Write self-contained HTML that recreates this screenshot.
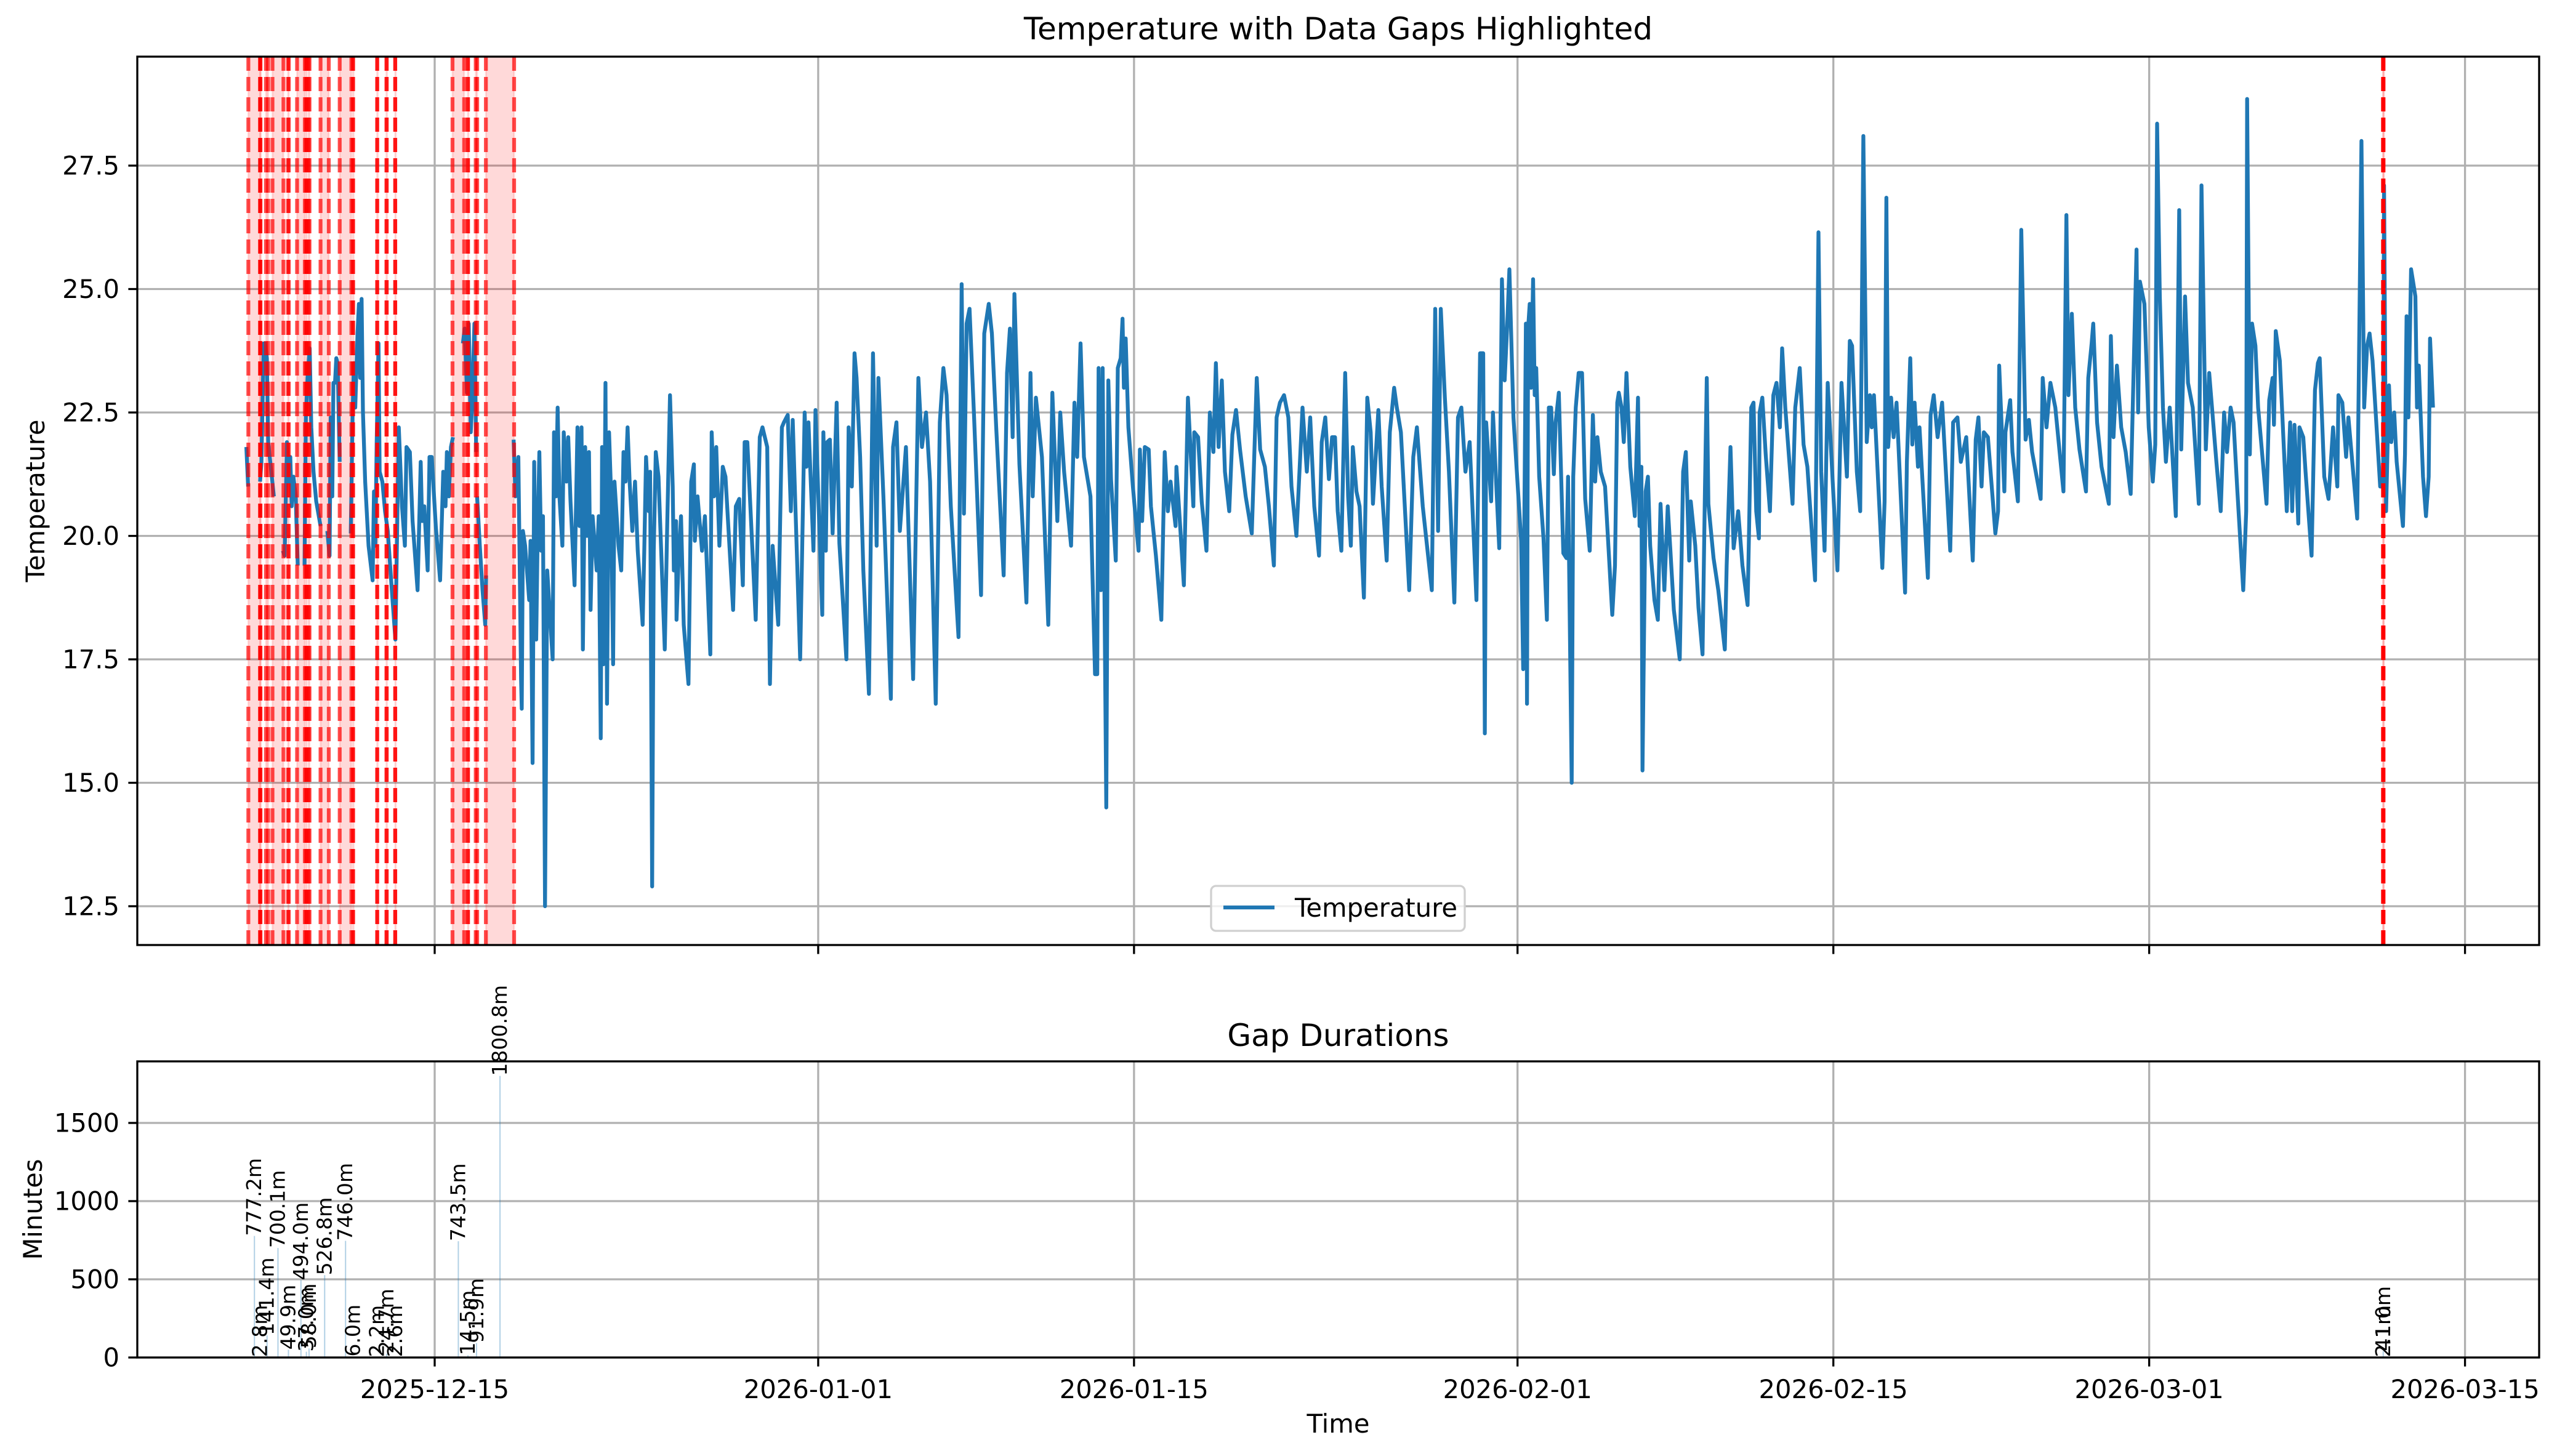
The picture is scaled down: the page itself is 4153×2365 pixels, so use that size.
<!DOCTYPE html>
<html><head><meta charset="utf-8">
<style>
html,body{margin:0;padding:0;background:#fff;}
svg{display:block;font-family:"DejaVu Sans","Liberation Sans",sans-serif;}
</style></head>
<body>
<svg id="chart" width="4153" height="2365" viewBox="0 0 4153 2365" xmlns="http://www.w3.org/2000/svg"></svg>
<script>
// ---- data (days relative to 2025-12-15, temperatures in °C) ----
const times = [
-8.35,-8.27,null,
-7.74,-7.68,-7.58,-7.52,-7.44,-7.38,-7.13,null,
-6.73,-6.65,-6.55,-6.46,-6.40,-6.34,-6.26,-6.16,-6.07,null,
-5.77,-5.71,-5.64,-5.54,-5.47,-5.37,-5.25,-5.06,null,
-4.76,-4.66,-4.61,-4.54,-4.49,-4.42,-4.36,-4.30,-4.21,null,
-3.72,-3.64,-3.58,-3.52,-3.42,-3.36,-3.30,-3.24,-3.18,-3.08,-2.93,-2.75,-2.69,-2.63,-2.57,-2.49,-2.44,-2.32,-2.20,-2.08,-1.90,-1.74,-1.59,-1.45,-1.32,-1.25,-1.10,-0.98,-0.76,-0.62,-0.56,-0.46,-0.31,-0.23,-0.13,0.05,0.24,0.38,0.48,0.54,0.63,0.72,0.81,null,
1.25,1.33,1.43,1.51,1.60,1.67,1.76,1.84,null,1.88,2.00,2.12,2.24,2.28,null,
3.50,3.58,3.71,3.83,3.86,3.91,4.01,4.19,4.25,4.34,4.41,4.50,4.56,4.64,4.72,4.80,4.89,4.99,5.23,5.29,5.38,5.45,5.53,5.66,5.72,5.84,5.92,6.02,6.20,6.33,6.42,6.51,6.57,6.67,6.75,6.84,6.91,7.00,7.18,7.27,7.36,7.42,7.48,7.57,7.64,7.73,7.81,7.91,7.97,8.15,8.27,8.37,8.46,8.55,8.64,8.76,8.88,9.00,9.22,9.29,9.37,9.49,9.55,9.64,9.71,9.80,9.92,10.20,
10.31,10.43,10.55,10.60,10.70,10.72,10.82,10.92,11.04,11.25,11.37,11.49,11.53,11.65,11.85,11.98,12.22,12.28,12.38,12.48,12.62,12.77,12.89,13.23,13.35,13.50,13.66,13.74,13.86,14.23,14.41,14.53,14.74,14.86,14.98,15.23,15.39,15.48,15.65,15.79,15.87,16.20,16.40,16.48,16.57,16.79,16.88,17.18,17.23,17.34,17.40,17.52,17.64,17.82,17.94,18.25,18.35,18.49,18.61,18.70,18.86,19.00,19.25,19.43,19.59,19.67,19.89,20.22,20.32,20.47,20.62,20.89,21.21,21.44,21.60,21.78,21.96,22.21,22.39,22.55,22.69,22.88,23.22,23.36,23.46,23.58,23.71,23.91,24.22,24.36,24.56,24.70,24.89,25.22,25.37,25.50,25.62,25.70,25.92,26.23,26.41,26.51,26.65,26.92,27.20,27.38,27.60,27.73,27.90,28.21,28.36,28.48,28.63,28.78,29.07,29.27,
29.37,29.43,29.53,29.61,29.68,29.77,29.86,29.98,30.19,30.28,30.41,30.49,30.55,30.63,30.75,30.95,31.20,31.26,31.36,31.48,31.65,31.75,31.97,32.21,32.36,32.50,32.62,32.84,32.88,33.21,33.39,33.63,33.67,33.84,34.00,34.21,34.36,34.52,34.63,34.75,34.89,35.03,35.22,35.36,35.52,35.70,35.95,36.22,36.44,36.59,36.80,36.98,37.20,37.32,37.47,37.65,37.84,37.98,38.20,38.47,38.66,38.81,38.99,39.20,39.32,39.48,39.64,39.78,39.91,40.03,40.19,40.36,40.49,40.61,40.70,40.86,41.00,41.19,41.34,41.49,41.59,41.83,41.98,42.20,42.34,42.53,42.65,42.83,43.20,43.38,43.54,43.80,44.20,44.35,44.48,44.60,44.78,44.96,45.20,45.36,45.51,45.69,45.88,46.18,46.34,46.48,46.55,46.61,46.83,46.91,47.19,47.31,47.43,47.54,47.64,47.82,48.16,48.25,48.37,
48.42,48.47,48.54,48.60,48.69,48.76,48.83,48.96,49.15,49.30,49.39,49.49,49.61,49.69,49.83,50.03,50.17,50.24,50.40,50.47,50.58,50.71,50.86,51.00,51.20,51.34,51.44,51.54,51.69,51.88,52.20,52.32,52.42,52.49,52.61,52.71,52.83,53.00,53.20,53.34,53.41,53.49,53.54,53.68,53.78,53.88,54.07,54.22,54.34,54.51,54.66,54.77,54.93,55.19,55.34,55.46,55.61,55.68,55.88,56.02,56.20,56.31,56.39,56.46,56.69,56.90,57.19,57.27,57.44,57.58,57.78,57.97,58.20,58.26,58.36,58.46,58.58,58.70,58.73,58.85,59.00,59.19,59.34,59.48,59.63,59.73,59.87,60.19,60.31,60.51,60.68,60.85,61.19,61.34,61.46,61.61,61.75,61.97,62.18,62.36,62.60,62.73,62.83,63.04,63.19,63.33,63.48,63.62,
63.70,63.80,64.17,64.27,64.35,64.43,64.56,64.67,64.80,65.18,65.26,65.41,65.50,65.60,65.75,65.82,66.19,66.31,66.45,66.62,66.82,67.18,67.31,67.50,67.65,67.89,68.18,68.31,68.43,68.57,68.67,68.85,69.18,69.30,69.35,69.58,69.63,69.84,69.94,70.18,70.33,70.52,70.67,70.81,71.19,71.28,71.45,71.62,71.84,72.20,72.33,72.42,72.57,72.72,72.91,73.20,73.30,73.45,73.52,73.69,73.89,74.21,74.30,74.42,74.57,74.76,74.96,75.18,75.35,75.44,75.51,75.59,75.79,75.98,76.16,76.27,76.35,76.47,76.61,76.74,76.91,77.18,77.33,77.42,77.59,77.72,77.93,78.20,78.32,78.51,78.66,78.98,
79.17,79.32,79.45,79.61,79.74,79.91,80.17,80.30,80.34,80.46,80.56,80.71,80.83,81.20,81.32,81.47,81.53,81.61,81.79,82.10,82.25,82.34,82.44,82.61,82.66,82.83,82.93,83.20,83.35,83.48,83.56,83.76,83.95,84.15,84.34,84.39,84.56,84.73,84.83,85.22,85.41,85.53,85.66,85.77,85.90,86.24,86.37,86.41,86.50,86.63,86.73,86.86,86.97,87.25,87.34,87.41,87.49,87.61,87.68,87.80,87.87,87.95,88.14,88.27,88.39,88.45,88.58
];
const temps = [
21.8,21.0,null,
21.1,21.5,23.9,23.9,23.6,21.9,20.8,null,
19.7,19.6,21.9,21.1,21.6,20.6,21.2,20.8,19.4,null,
19.4,22.4,23.2,23.8,22.2,21.3,20.7,20.2,null,
20.1,19.6,22.4,20.8,23.1,23.1,23.6,23.5,21.5,null,
20.05,22.4,23.5,22.6,24.1,24.7,23.2,24.8,22.5,21.1,19.8,19.1,20.9,19.8,21.9,23.9,21.3,21.1,20.5,20.1,18.9,17.9,22.2,20.6,19.8,21.8,21.7,20.3,18.9,21.5,20.3,20.6,19.3,21.6,21.6,20.2,19.1,21.3,20.6,21.7,20.8,21.8,22.0,null,
23.9,24.2,22.9,24.3,22.1,22.8,24.3,21.7,null,20.8,19.8,18.9,18.2,19.2,null,
21.95,20.8,21.6,17.1,16.5,20.1,19.8,18.7,19.9,15.4,21.5,17.9,19.9,21.7,19.7,20.4,12.5,19.3,17.5,22.1,20.8,22.6,20.8,19.8,22.1,21.1,22.0,20.7,19.0,22.2,20.2,22.2,17.7,21.8,20.0,21.7,18.5,20.4,19.3,20.4,15.9,21.8,17.4,23.1,16.6,22.1,20.97,17.4,21.1,19.8,19.3,21.7,21.1,22.2,21.1,20.1,21.1,19.7,18.2,19.7,21.6,20.5,21.3,12.9,19.7,21.7,21.2,17.7,
20.3,22.85,21.0,19.3,20.3,18.3,19.6,20.4,18.2,17.0,21.1,21.45,19.9,20.8,19.7,20.4,17.6,22.1,20.8,21.8,19.8,21.4,21.2,18.5,20.6,20.75,19.0,21.9,21.9,18.3,22.0,22.2,21.8,17.0,19.8,18.2,22.2,22.3,22.45,20.5,22.35,17.5,22.5,21.4,22.3,19.7,22.55,18.4,22.1,19.7,21.9,21.95,20.05,22.7,19.85,17.5,22.2,21.0,23.7,23.2,21.6,19.3,16.8,23.7,19.8,23.2,20.8,16.7,21.8,22.3,20.1,21.8,17.1,23.2,21.8,22.5,21.1,16.6,22.3,23.4,22.85,20.6,17.95,25.1,20.45,24.3,24.6,22.4,18.8,24.1,24.7,24.1,22.2,19.2,23.3,24.2,22.0,24.9,21.45,18.65,23.3,20.8,22.8,21.6,18.2,22.9,20.3,22.5,21.3,19.8,22.7,21.6,23.9,21.6,20.8,17.2,
17.2,23.4,18.9,23.4,19.3,14.5,23.15,21.15,19.5,23.4,23.6,24.4,23.0,24.0,22.2,21.0,19.7,21.75,20.3,21.8,21.75,20.6,19.6,18.3,21.7,20.5,21.1,20.2,21.4,19.0,22.8,20.6,22.1,22.0,20.7,19.7,22.5,21.7,23.5,21.8,23.15,21.3,20.5,22.05,22.55,21.75,20.8,20.05,23.2,21.75,21.4,20.6,19.4,22.4,22.7,22.85,22.4,21.0,20.0,22.6,21.3,22.4,20.6,19.6,21.9,22.4,21.15,22.0,22.0,20.5,19.7,23.3,20.8,19.8,21.8,20.9,20.6,18.75,22.8,22.1,20.65,22.55,21.0,19.5,22.1,23.0,22.6,22.1,18.9,21.6,22.2,20.6,18.9,24.6,20.1,24.6,22.8,21.3,18.65,22.4,22.6,21.3,21.9,18.7,23.7,23.7,16.0,22.3,20.7,22.5,19.75,25.2,23.15,24.25,25.4,22.4,19.9,17.3,24.3,
16.6,24.2,24.7,23.0,25.2,22.85,23.4,21.2,19.95,18.3,22.6,22.6,21.25,22.3,22.9,19.65,19.55,21.2,15.0,21.2,22.6,23.3,23.3,20.75,19.7,22.45,21.1,22.0,21.3,21.0,18.4,19.4,22.7,22.9,22.6,21.9,23.3,21.4,20.4,22.8,20.2,21.4,15.25,20.9,21.2,19.8,18.7,18.3,20.65,18.9,20.6,19.75,18.5,17.5,21.3,21.7,19.5,20.7,19.8,18.55,17.6,21.0,23.2,20.65,19.55,18.9,17.7,19.4,21.8,19.75,20.5,19.4,18.6,20.0,22.6,22.7,20.5,19.95,22.5,22.8,21.65,20.5,22.85,23.1,22.2,23.8,22.6,20.65,22.6,23.4,21.85,21.4,19.1,26.15,21.3,19.7,23.1,21.1,19.3,23.1,21.2,23.95,23.85,21.3,20.5,28.1,21.9,22.85,
22.2,22.85,19.35,20.7,26.85,21.8,22.8,22.0,22.7,18.85,21.5,23.6,21.85,22.7,21.4,22.2,19.15,22.45,22.85,22.0,22.7,19.7,22.3,22.4,21.5,22.0,19.5,21.95,22.4,21.0,22.1,22.0,20.05,20.5,23.45,20.9,22.1,22.75,21.7,20.7,26.2,21.95,22.35,21.7,20.75,23.2,22.2,23.1,22.6,20.9,26.5,22.85,24.5,22.6,21.75,20.9,23.2,23.9,24.3,22.3,21.4,20.65,24.05,22.0,23.45,22.2,21.7,20.85,24.1,25.8,22.5,25.15,24.7,22.2,21.1,21.85,28.35,24.85,22.6,21.5,22.6,20.4,26.6,21.75,24.85,23.1,22.6,20.65,27.1,21.75,23.3,21.5,
20.5,22.5,21.7,22.6,22.3,20.9,18.9,20.5,28.85,21.65,24.3,23.85,22.6,20.65,22.75,23.2,22.25,24.15,23.55,20.5,22.3,20.5,22.25,20.25,22.2,22.0,21.3,19.6,22.95,23.5,23.6,21.2,20.75,22.2,21.0,22.85,22.7,21.6,22.4,20.35,28.0,22.6,23.85,24.1,23.55,21.0,21.0,27.1,20.5,23.05,21.9,22.5,21.5,20.2,21.65,24.45,22.4,25.4,25.2,24.85,22.6,23.45,21.2,20.4,21.2,24.0,22.6
];
// gaps: start day and duration (minutes)
const gapStarts = [-8.26,-7.74,-7.48,-7.19,-6.50,-6.10,-5.70,-5.59,-5.06,-4.21,-3.62,-2.55,-2.14,-1.75,0.79,1.47,1.82,2.27,86.36,86.38];
const gapMinutes = [777.2,2.8,141.4,700.1,49.9,494.0,37.0,58.0,526.8,746.0,6.0,2.2,24.7,2.6,743.5,14.5,91.9,1800.8,41.0,2.1];
const xTickDays = [0,17,31,48,62,76,90];
const xTickLabels = ["2025-12-15","2026-01-01","2026-01-15","2026-02-01","2026-02-15","2026-03-01","2026-03-15"];
const yTicksTop = [12.5,15.0,17.5,20.0,22.5,25.0,27.5];
const yTicksBottom = [0,500,1000,1500];

// ---- layout ----
const NS = "http://www.w3.org/2000/svg";
const svg = document.getElementById('chart');
const L = 223, R = 4124;
const T1 = 92, B1 = 1535, T2 = 1724, B2 = 2205;
const xDay = d => 706 + d * 36.64;
const yTemp = v => 670 + (22.5 - v) * 80.2;
const yMin = m => B2 - m * 0.254;

function el(tag, attrs, parent) {
  const e = document.createElementNS(NS, tag);
  for (const k in attrs) e.setAttribute(k, attrs[k]);
  (parent || svg).appendChild(e);
  return e;
}
function txt(str, attrs, parent) { const t = el('text', attrs, parent); t.textContent = str; return t; }

const defs = el('defs', {});
const cp1 = el('clipPath', {id: 'clipTop'}, defs); el('rect', {x: L, y: T1, width: R - L, height: B1 - T1}, cp1);
const cp2 = el('clipPath', {id: 'clipBot'}, defs); el('rect', {x: L, y: T2, width: R - L, height: B2 - T2}, cp2);

// ===== TOP AXES =====
const topG = el('g', {});


const gridTop = el('g', {stroke: '#b0b0b0', 'stroke-width': 3.3}, topG);


xTickDays.forEach(d => el('line', {x1: xDay(d), x2: xDay(d), y1: T1, y2: B1}, gridTop));
yTicksTop.forEach(v => el('line', {x1: L, x2: R, y1: yTemp(v), y2: yTemp(v)}, gridTop));

const spans = el('g', {'clip-path': 'url(#clipTop)'}, topG);


gapStarts.forEach((s, i) => {
  const e = s + gapMinutes[i] / 1440;
  const r = el('rect', {x: xDay(s), y: T1, width: Math.max(xDay(e) - xDay(s), 1), height: B1 - T1, fill: 'rgba(255,0,0,0.15)', stroke: 'rgba(255,0,0,0.12)', 'stroke-width': 3}, spans);
  
  
});

let d = '', pen = false;
for (let i = 0; i < times.length; i++) {
  if (times[i] === null || temps[i] === null) { pen = false; continue; }
  d += (pen ? 'L' : 'M') + xDay(times[i]).toFixed(1) + ' ' + yTemp(temps[i]).toFixed(1);
  pen = true;
}
const tline = el('path', {d: d, fill: 'none', stroke: '#1f77b4', 'stroke-width': 6.25, 'stroke-linejoin': 'round', 'stroke-linecap': 'butt', 'clip-path': 'url(#clipTop)'}, topG);



const dashes = el('g', {stroke: 'rgba(255,0,0,0.7)', 'stroke-width': 6.25, 'stroke-dasharray': '23 10', 'clip-path': 'url(#clipTop)'}, topG);


gapStarts.forEach((s, i) => {
  const e = s + gapMinutes[i] / 1440;
  [s, e].forEach(v => {
    const ln = el('line', {x1: xDay(v), x2: xDay(v), y1: T1, y2: B1}, dashes);
    
    
  });
});

el('rect', {x: L, y: T1, width: R - L, height: B1 - T1, fill: 'none', stroke: '#000', 'stroke-width': 3.3}, topG);
const tkTop = el('g', {stroke: '#000', 'stroke-width': 3.3}, topG);
xTickDays.forEach(dd => el('line', {x1: xDay(dd), x2: xDay(dd), y1: B1, y2: B1 + 14.6}, tkTop));
yTicksTop.forEach(v => {
  el('line', {x1: L, x2: L - 14.6, y1: yTemp(v), y2: yTemp(v)}, tkTop);
  const t = txt(v.toFixed(1), {x: L - 29, y: yTemp(v) + 14.5, 'text-anchor': 'end', 'font-size': 41.7, fill: '#000'}, topG);
  
  
});
const title1 = txt('Temperature with Data Gaps Highlighted', {x: (L + R) / 2, y: 64, 'text-anchor': 'middle', 'font-size': 50, fill: '#000'});


const yl1 = txt('Temperature', {x: 0, y: 0, 'text-anchor': 'middle', 'font-size': 41.7, transform: `translate(72,${(T1 + B1) / 2}) rotate(-90)`});



const lg = el('g', {});


el('rect', {x: 1967, y: 1439, width: 412, height: 73, rx: 8, fill: 'rgba(255,255,255,0.8)', stroke: '#d0d0d0', 'stroke-width': 3.3}, lg);
const lgl = el('line', {x1: 1987, x2: 2070, y1: 1474, y2: 1474, stroke: '#1f77b4', 'stroke-width': 6.25}, lg);


const lgt = txt('Temperature', {x: 2103, y: 1489, 'font-size': 41.7}, lg);



// ===== BOTTOM AXES =====
const botG = el('g', {});


const gridBot = el('g', {stroke: '#b0b0b0', 'stroke-width': 3.3}, botG);


xTickDays.forEach(dd => el('line', {x1: xDay(dd), x2: xDay(dd), y1: T2, y2: B2}, gridBot));
yTicksBottom.forEach(m => el('line', {x1: L, x2: R, y1: yMin(m), y2: yMin(m)}, gridBot));

gapStarts.forEach((s, i) => {
  const mid = s + gapMinutes[i] / 2880;
  const b = el('rect', {x: xDay(mid) - 1, y: yMin(gapMinutes[i]), width: 2, height: B2 - yMin(gapMinutes[i]), fill: '#1f77b4', opacity: 0.35, 'clip-path': 'url(#clipBot)'}, botG);
  
  
});
el('rect', {x: L, y: T2, width: R - L, height: B2 - T2, fill: 'none', stroke: '#000', 'stroke-width': 3.3}, botG);
gapStarts.forEach((s, i) => {
  const mid = s + gapMinutes[i] / 2880;
  const x = xDay(mid), y = yMin(gapMinutes[i]);
  const t = txt(gapMinutes[i].toFixed(1) + 'm', {x: 0, y: 0, 'font-size': 33, transform: `translate(${x + 11},${y}) rotate(-90)`}, botG);
  
  
});
const tkBot = el('g', {stroke: '#000', 'stroke-width': 3.3}, botG);
xTickDays.forEach((dd, i) => {
  el('line', {x1: xDay(dd), x2: xDay(dd), y1: B2, y2: B2 + 14.6}, tkBot);
  const t = txt(xTickLabels[i], {x: xDay(dd), y: B2 + 66, 'text-anchor': 'middle', 'font-size': 41.7}, botG);
  
  
});
yTicksBottom.forEach(m => {
  el('line', {x1: L, x2: L - 14.6, y1: yMin(m), y2: yMin(m)}, tkBot);
  const t = txt(String(m), {x: L - 29, y: yMin(m) + 14.5, 'text-anchor': 'end', 'font-size': 41.7}, botG);
  
  
});
const title2 = txt('Gap Durations', {x: (L + R) / 2, y: 1699, 'text-anchor': 'middle', 'font-size': 50});


const yl2 = txt('Minutes', {x: 0, y: 0, 'text-anchor': 'middle', 'font-size': 41.7, transform: `translate(68,${(T2 + B2) / 2}) rotate(-90)`});


const xl = txt('Time', {x: (L + R) / 2, y: 2327, 'text-anchor': 'middle', 'font-size': 41.7});


</script>
</body></html>
